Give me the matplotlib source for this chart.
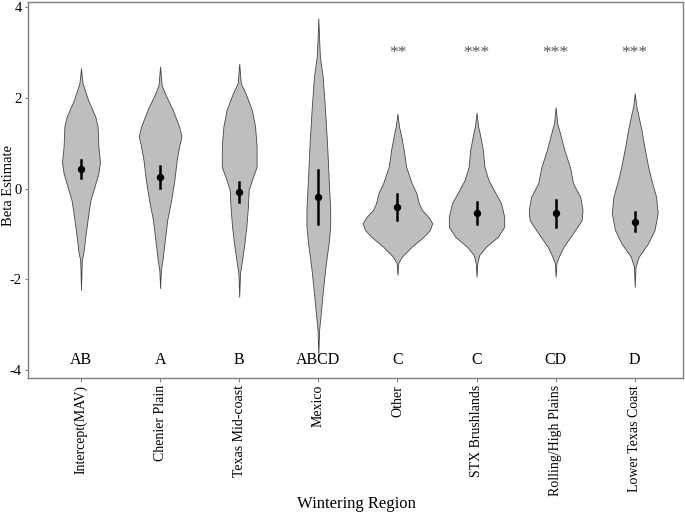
import matplotlib
matplotlib.use('Agg')
import matplotlib.pyplot as plt
import numpy as np

plt.rcParams['font.family'] = ['Liberation Serif', 'DejaVu Serif']
plt.rcParams['axes.unicode_minus'] = False

# regions along the x axis
regions = ['Intercept(MAV)', 'Chenier Plain', 'Texas Mid-coast', 'Mexico',
           'Other', 'STX Brushlands', 'Rolling/High Plains', 'Lower Texas Coast']
letters = ['AB', 'A', 'B', 'ABCD', 'C', 'C', 'CD', 'D']
stars = ['', '', '', '', '**', '***', '***', '***']

# posterior mean and interval
means = [0.43, 0.25, -0.07, -0.18, -0.40, -0.54, -0.54, -0.73]
ci_low = [0.23, 0.02, -0.29, -0.78, -0.69, -0.78, -0.84, -0.93]
ci_high = [0.63, 0.50, 0.15, 0.41, -0.12, -0.30, -0.25, -0.51]

# violin outlines: beta value and half width
y_mav = [2.65, 2.32, 1.95, 1.59, 1.37, 0.93, 0.59, 0.34, 0.04, -0.25, -0.47, -0.98, -1.42, -1.57, -2.23]
w_mav = [0, 0.02, 0.09, 0.18, 0.21, 0.22, 0.24, 0.22, 0.17, 0.12, 0.10, 0.06, 0.03, 0.01, 0]

y_chen = [2.69, 2.28, 2.10, 1.73, 1.37, 1.15, 0.93, 0.63, 0.19, -0.25, -0.69, -1.13, -1.57, -1.79, -2.19]
w_chen = [0, 0.02, 0.06, 0.16, 0.24, 0.27, 0.24, 0.21, 0.18, 0.14, 0.09, 0.06, 0.03, 0.01, 0]

y_tex = [2.75, 2.32, 2.10, 1.73, 1.37, 0.93, 0.48, 0.19, -0.03, -0.40, -0.84, -1.28, -1.64, -1.86, -2.38]
w_tex = [0, 0.02, 0.08, 0.16, 0.20, 0.22, 0.22, 0.16, 0.12, 0.11, 0.09, 0.06, 0.03, 0.01, 0]

y_mex = [3.75, 3.28, 2.91, 2.47, 1.73, 1.00, 0.26, -0.47, -0.84, -1.20, -1.79, -2.30, -2.67, -3.11, -3.66]
w_mex = [0, 0.01, 0.02, 0.055, 0.085, 0.11, 0.13, 0.15, 0.15, 0.13, 0.085, 0.055, 0.035, 0.01, 0]

y_oth = [1.65, 1.37, 1.22, 0.85, 0.48, 0.12, -0.10, -0.32, -0.47, -0.62, -0.76, -0.91, -1.06, -1.28, -1.50, -1.64, -1.90]
w_oth = [0, 0.02, 0.04, 0.08, 0.11, 0.18, 0.24, 0.27, 0.31, 0.39, 0.44, 0.41, 0.33, 0.18, 0.055, 0.01, 0]

y_stx = [1.67, 1.37, 1.22, 0.85, 0.48, 0.19, -0.10, -0.32, -0.62, -0.84, -1.06, -1.28, -1.46, -1.64, -1.94]
w_stx = [0, 0.02, 0.04, 0.08, 0.10, 0.15, 0.24, 0.31, 0.35, 0.35, 0.27, 0.12, 0.035, 0.01, 0]

y_roll = [1.79, 1.44, 1.22, 0.85, 0.48, 0.12, -0.18, -0.47, -0.69, -0.98, -1.28, -1.50, -1.64, -1.94]
w_roll = [0, 0.02, 0.055, 0.11, 0.18, 0.22, 0.31, 0.34, 0.33, 0.22, 0.10, 0.04, 0.01, 0]

y_low = [2.10, 1.81, 1.66, 1.29, 0.93, 0.48, 0.19, -0.18, -0.54, -0.91, -1.20, -1.50, -1.72, -2.16]
w_low = [0, 0.02, 0.04, 0.085, 0.12, 0.17, 0.21, 0.27, 0.29, 0.25, 0.17, 0.05, 0.01, 0]

violin_y = [y_mav, y_chen, y_tex, y_mex, y_oth, y_stx, y_roll, y_low]
violin_w = [w_mav, w_chen, w_tex, w_mex, w_oth, w_stx, w_roll, w_low]

fig = plt.figure(figsize=(6.85, 5.12), dpi=100)
ax = fig.add_axes([28 / 685, 1 - 378 / 512, 655 / 685, 376 / 512])

xpos = np.arange(1, len(regions) + 1)
for i, c in enumerate(xpos):
    y = np.array(violin_y[i])
    w = np.array(violin_w[i])
    ax.fill_betweenx(y, c - w, c + w, facecolor='#bebebe', edgecolor='#454545',
                     linewidth=0.6, zorder=2)
    ax.plot([c, c], [ci_low[i], ci_high[i]], color='black', linewidth=1.8, zorder=3)
    ax.plot(c, means[i], 'o', color='black', markersize=4.3, zorder=4)
    ax.text(c, -3.77, letters[i], ha='center', va='center', fontsize=11.5, color='black')
    if stars[i]:
        ax.text(c, 2.98, stars[i], ha='center', va='center', fontsize=12.5, color='#555555')

ax.set_xlim(0.33, 8.61)
ax.set_ylim(-4.17, 4.11)
ax.set_yticks([-4, -2, 0, 2, 4])
ax.set_xticks(xpos)
ax.set_xticklabels(regions, rotation=90, ha='center', va='top')
ax.tick_params(axis='both', labelsize=10, color='#7f7f7f', length=3, width=0.8,
               labelcolor='black', pad=2)
ax.tick_params(axis='y', labelsize=10.5, length=2.5, pad=2)
for s in ax.spines.values():
    s.set_color('#7f7f7f')
    s.set_linewidth(1.0)

fig.text(8.5 / 685, 1 - 186 / 512, 'Beta Estimate', rotation=90, ha='center', va='center',
         fontsize=10.5)
fig.text(356 / 685, 1 - 504 / 512, 'Wintering Region', ha='center', va='center', fontsize=12)

fig.savefig('out.png', dpi=100)
